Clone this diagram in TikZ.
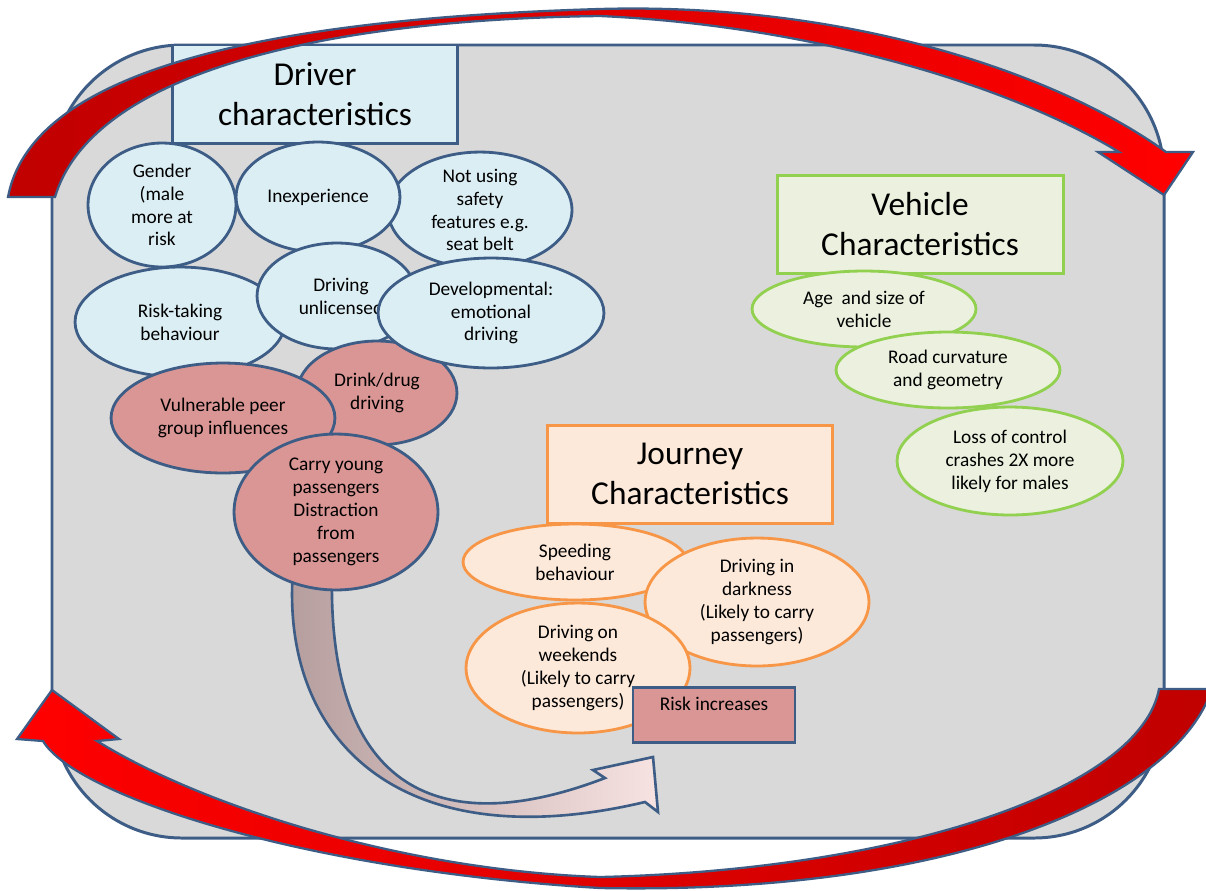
\documentclass[tikz,border=0pt]{standalone}
\usepackage{fontspec}
\setmainfont{Carlito}
\usetikzlibrary{shapes.geometric}

\definecolor{edgeblue}{HTML}{3D5D86}
\definecolor{panelgray}{HTML}{D9D9D9}
\definecolor{paleblue}{HTML}{DBEEF4}
\definecolor{rosefill}{HTML}{D99694}
\definecolor{orangeedge}{HTML}{F79646}
\definecolor{peachfill}{HTML}{FDE9D9}
\definecolor{greenedge}{HTML}{92D050}
\definecolor{greenfill}{HTML}{EBF1DE}
\definecolor{brightred}{HTML}{FF0000}
\definecolor{deepred}{HTML}{C00000}
\definecolor{mauve}{HTML}{B49C9C}
\definecolor{blush}{HTML}{F7E3E2}

\newcommand\txtS{\fontsize{11}{13}\selectfont}
\newcommand\txtL{\fontsize{19}{22.5}\selectfont}

\tikzset{
  esize/.style 2 args={minimum width=#1*0.04cm, minimum height=#2*0.04cm},
  bsize/.style 2 args={minimum width=#1*0.02cm, minimum height=#2*0.02cm},
  ell/.style={ellipse, line width=1.6pt, inner sep=0pt, align=center, font=\txtS},
  drvell/.style={ell, draw=edgeblue, fill=paleblue},
  roseell/.style={ell, draw=edgeblue, fill=rosefill},
  jrnell/.style={ell, draw=orangeedge, fill=peachfill},
  vehell/.style={ell, draw=greenedge, fill=greenfill},
  titlebox/.style={rectangle, line width=1.7pt, inner sep=0pt, align=center, font=\txtL},
  bandline/.style={draw=edgeblue, line width=1.3pt}
}

\begin{document}
\begin{tikzpicture}[x=0.02cm, y=-0.02cm]
\useasboundingbox (0,0) rectangle (1206,890);
\fill[white] (0,0) rectangle (1206,890);

% grey panel
\draw[edgeblue, line width=1.7pt, fill=panelgray, rounded corners=2.6cm]
  (52,45) rectangle (1164,838);

% block arrow from the passenger cluster down to "Risk increases"
\draw[bandline, line width=1.5pt, left color=mauve, right color=blush]
  (293,570) .. controls (280,740) and (400,860) .. (645,802)
  -- (658,812) -- (653,757) -- (593,770) -- (605,778)
  .. controls (430,845) and (328,780) .. (332,575) -- cycle;

% driver characteristics
\node[titlebox, draw=edgeblue, fill=paleblue, bsize={285}{98}] (driver) at (315,94)
  {Driver\\characteristics};
\node[drvell, esize={92}{55}] (belt) at (480,210) {Not using\\safety\\features e.g.\\seat belt};
\node[drvell, esize={82}{55}] (inexp) at (318,197) {Inexperience};
\node[drvell, esize={74}{62}] (gender) at (162,205) {Gender\\(male\\more at\\risk};
\node[drvell, esize={105}{55}] (risktaking) at (180,322) {Risk-taking\\behaviour};
\node[drvell, esize={80}{53}] (unlic) at (337,296) {};
\node[font=\txtS, align=center, inner sep=0pt] (unlictext) at (341,296) {Driving\\unlicensed};
\node[roseell, esize={80}{52}] (drink) at (377,393) {Drink/drug\\driving};
\node[drvell, esize={113}{55}] (devel) at (491,313) {Developmental:\\emotional\\driving};
\node[roseell, esize={112}{55}] (peer) at (223,418) {Vulnerable peer\\group influences};
\node[roseell, esize={102}{78}] (carry) at (336,512)
  {Carry young\\passengers\\Distraction\\from\\passengers};

% journey characteristics
\node[titlebox, draw=orangeedge, fill=peachfill, bsize={285}{98}] (journey) at (690,474)
  {Journey\\Characteristics};
\node[jrnell, esize={112}{38}] (speed) at (575,562) {Speeding\\behaviour};
\node[jrnell, esize={112}{64}] (dark) at (757,602) {Driving in\\darkness\\(Likely to carry\\passengers)};
\node[jrnell, esize={112}{65}] (weekend) at (578,668) {Driving on\\weekends\\(Likely to carry\\passengers)};
\node[rectangle, draw=edgeblue, line width=1.6pt, fill=rosefill, bsize={162}{55}] (riskbox) at (714,715) {};
\node[anchor=north, font=\txtS, inner sep=0pt] (risklabel) at ([yshift=-0.22cm]riskbox.north) {Risk increases};

% vehicle characteristics
\node[titlebox, draw=greenedge, fill=greenfill, bsize={286}{98}] (vehicle) at (920,224)
  {Vehicle\\Characteristics};
\node[vehell, esize={112}{38}] (age) at (864,309) {Age\ \ and size of\\vehicle};
\node[vehell, esize={112}{38}] (road) at (948,370) {Road curvature\\and geometry};
\node[vehell, esize={113}{54}] (control) at (1010,461) {Loss of control\\crashes 2X more\\likely for males};

% circulating red arrows
\draw[bandline, left color=deepred, right color=brightred]
  (8,197) .. controls (30,80) and (230,20) .. (600,9)
  .. controls (850,2) and (1060,75) .. (1166,152)
  -- (1193,152) -- (1164,195) -- (1098,152) -- (1119,152)
  .. controls (1000,80) and (800,25) .. (600,16)
  .. controls (300,20) and (90,80) .. (55,197) -- cycle;

\draw[bandline, left color=brightred, right color=deepred]
  (1159,689) -- (1212,689)
  .. controls (1175,800) and (950,895) .. (600,888)
  .. controls (300,870) and (75,795) .. (43,741)
  -- (17,739) -- (52,690) -- (119,739) -- (97,741)
  .. controls (200,805) and (400,870) .. (600,877)
  .. controls (900,870) and (1140,790) .. (1159,689) -- cycle;
\end{tikzpicture}
\end{document}
